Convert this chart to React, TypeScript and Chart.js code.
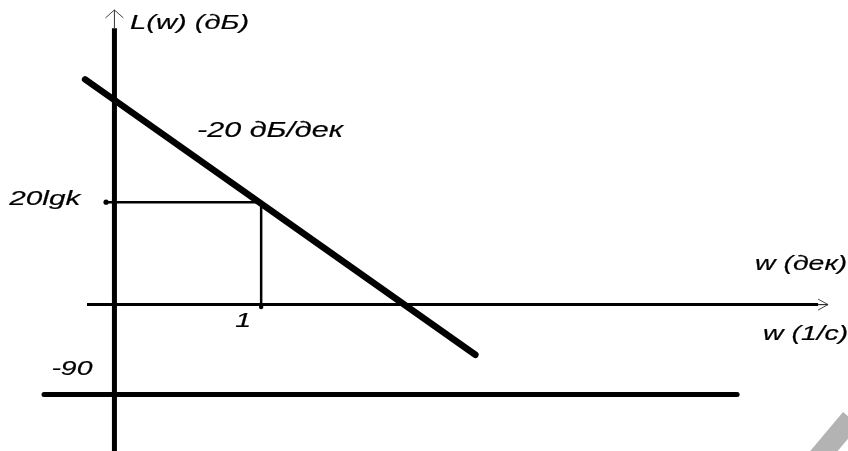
import { useEffect, useRef } from "react";
import { Chart, registerables } from "chart.js";

Chart.register(...registerables);

// Asymptotic log-magnitude plot L(w) of an integrating link, lg w on the horizontal axis
const slopeLgW = [-1.2, 1.46];
const slopeDb = [44, -9.8];

// Level 20lgk reached at w = 1 (lg w = 0)
const guideHLgW = [-1.057, 0];
const guideHDb = [20, 20];
const guideVLgW = [0, 0];
const guideVDb = [20, -0.47];

// Phase characteristic: constant -90 degrees
const phaseLgW = [-1.48, 3.244];
const phaseDeg = [-90, -90];

// Axes: ordinate L(w) at lg w = -1, abscissa at L = 0
const lAxisLgW = [-1, -1];
const lAxisDb = [54, -30];
const lShaftLgW = [-1, -1];
const lShaftDb = [54, 57.55];
const lArrowLgW = [-1.061, -1, -0.939];
const lArrowDb = [56, 57.55, 56];

const wAxisLgW = [-1.187, 3.796];
const wAxisDb = [0, 0];
const wShaftLgW = [3.796, 3.864];
const wShaftDb = [0, 0];
const wArrowLgW = [3.796, 3.864, 3.796];
const wArrowDb = [1.07, 0, -1.07];

// Grey corner stroke
const cornerLgW = [3.796, 4.021];
const cornerDb = [-29.97, -22.31];

// Text labels
const labelTexts = ["L(w) (дБ)", "-20 дБ/дек", "20lgk", "1", "w (дек)", "w (1/с)", "-90"];

const STRETCH = 1.42;

type Lbl = {
  text: string;
  x: number;
  y: number;
  axis: "y" | "y2";
  dx: number;
  dy: number;
  align: CanvasTextAlign;
  size: number;
};

const labels: Lbl[] = [
  { text: labelTexts[0], x: -1, y: 57.55, axis: "y", dx: 15.6, dy: 19.5, align: "left", size: 20.5 },
  { text: labelTexts[1], x: -0.437, y: 32.7, axis: "y", dx: 0, dy: 0, align: "left", size: 21.5 },
  { text: labelTexts[2], x: -1, y: 20, axis: "y", dx: -34, dy: 3, align: "right", size: 21 },
  { text: labelTexts[3], x: 0, y: 0, axis: "y", dx: -18, dy: 22, align: "center", size: 20 },
  { text: labelTexts[4], x: 3.864, y: 0, axis: "y", dx: -73, dy: -34.6, align: "left", size: 20 },
  { text: labelTexts[5], x: 3.864, y: 0, axis: "y", dx: -65, dy: 35.5, align: "left", size: 20 },
  { text: labelTexts[6], x: -1, y: -90, axis: "y2", dx: -22, dy: -19.5, align: "right", size: 20 },
];

const zip = (xs: number[], ys: number[]) => xs.map((x, i) => ({ x, y: ys[i] }));

const labelPlugin = {
  id: "bodeLabels",
  afterDatasetsDraw(chart: any) {
    const { ctx, scales } = chart;
    for (const l of labels) {
      const px = scales.x.getPixelForValue(l.x) + l.dx;
      const py = scales[l.axis].getPixelForValue(l.y) + l.dy;
      ctx.save();
      ctx.font = `italic ${l.size}px "Liberation Sans", Arial, sans-serif`;
      ctx.fillStyle = "#000";
      ctx.strokeStyle = "#000";
      ctx.lineWidth = 0.2;
      ctx.textAlign = l.align;
      ctx.textBaseline = "alphabetic";
      ctx.translate(px, py);
      ctx.scale(STRETCH, 1);
      ctx.fillText(l.text, 0, 0);
      ctx.strokeText(l.text, 0, 0);
      ctx.restore();
    }
  },
};

function line(
  xs: number[],
  ys: number[],
  width: number,
  color = "#000",
  cap: CanvasLineCap = "butt",
  axis = "y",
  extra: any = {}
) {
  return {
    data: zip(xs, ys),
    showLine: true,
    borderColor: color,
    borderWidth: width,
    borderCapStyle: cap,
    borderJoinStyle: "miter",
    pointRadius: 0,
    fill: false,
    tension: 0,
    yAxisID: axis,
    ...extra,
  };
}

export default function App() {
  const ref = useRef<HTMLCanvasElement | null>(null);

  useEffect(() => {
    if (!ref.current) return;
    const chart = new Chart(ref.current, {
      type: "scatter",
      data: {
        datasets: [
          line(cornerLgW, cornerDb, 21, "#b3b3b3"),
          line(phaseLgW, phaseDeg, 5, "#000", "round", "y2"),
          line(lAxisLgW, lAxisDb, 5),
          line(lShaftLgW, lShaftDb, 1, "#333"),
          line(lArrowLgW, lArrowDb, 1, "#444"),
          line(wAxisLgW, wAxisDb, 3),
          line(wShaftLgW, wShaftDb, 1.2, "#333"),
          line(wArrowLgW, wArrowDb, 1, "#444"),
          line(guideHLgW, guideHDb, 2.5, "#000", "butt", "y", {
            pointRadius: [2.6, 0],
            pointBackgroundColor: "#000",
            pointBorderWidth: 0,
          }),
          line(guideVLgW, guideVDb, 2.5, "#000", "butt", "y", {
            pointRadius: [0, 2.2],
            pointBackgroundColor: "#000",
            pointBorderWidth: 0,
          }),
          line(slopeLgW, slopeDb, 6.5, "#000", "round"),
        ] as any,
      },
      options: {
        animation: false,
        responsive: false,
        events: [],
        layout: { padding: 0, autoPadding: false },
        plugins: { legend: { display: false }, tooltip: { enabled: false } },
        scales: {
          x: { type: "linear", min: -1.78, max: 4.0, display: false },
          y: { type: "linear", min: -28.6, max: 59.5, display: false },
          y2: { type: "linear", min: -146.4, max: 304.6, display: false, position: "right" },
        },
      },
      plugins: [labelPlugin],
    });
    return () => chart.destroy();
  }, []);

  return (
    <div style={{ position: "absolute", left: 0, top: 0, width: 848, height: 451, background: "#fff" }}>
      <canvas ref={ref} width={848} height={451} style={{ width: 848, height: 451, display: "block" }} />
    </div>
  );
}
